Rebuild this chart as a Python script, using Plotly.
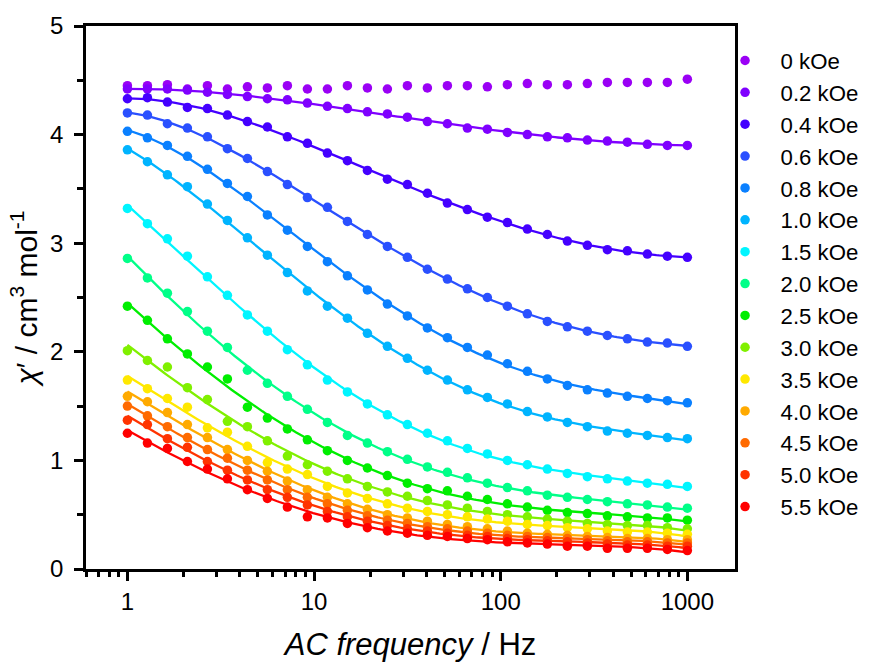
import numpy as np
import plotly.graph_objects as go

freq = [1, 1.28, 1.638, 2.096, 2.683, 3.434, 4.394, 5.623, 7.197, 9.211,
        11.79, 15.09, 19.31, 24.71, 31.62, 40.47, 51.79, 66.28, 84.83, 108.6,
        138.9, 177.8, 227.6, 291.3, 372.8, 477.1, 610.6, 781.5, 1000]

labels = ["0 kOe", "0.2 kOe", "0.4 kOe", "0.6 kOe", "0.8 kOe", "1.0 kOe", "1.5 kOe",
          "2.0 kOe", "2.5 kOe", "3.0 kOe", "3.5 kOe", "4.0 kOe", "4.5 kOe", "5.0 kOe", "5.5 kOe"]

chi_0_0 = [4.45, 4.45, 4.46, 4.42, 4.45, 4.42, 4.44, 4.43, 4.45, 4.42, 4.42, 4.45, 4.43, 4.42,
           4.45, 4.43, 4.45, 4.45, 4.44, 4.46, 4.47, 4.46, 4.46, 4.47, 4.48, 4.48, 4.48, 4.48, 4.51]
chi_0_2 = [4.42, 4.42, 4.42, 4.41, 4.39, 4.37, 4.35, 4.33, 4.32, 4.29, 4.26, 4.24, 4.21, 4.19,
           4.16, 4.12, 4.10, 4.06, 4.05, 4.02, 4.00, 3.98, 3.97, 3.95, 3.94, 3.93, 3.91, 3.90, 3.90]
chi_0_4 = [4.33, 4.34, 4.30, 4.25, 4.24, 4.18, 4.12, 4.07, 3.98, 3.92, 3.83, 3.76, 3.67, 3.59,
           3.54, 3.46, 3.37, 3.31, 3.24, 3.19, 3.13, 3.08, 3.02, 2.98, 2.94, 2.93, 2.90, 2.88, 2.87]
chi_0_6 = [4.20, 4.18, 4.10, 4.06, 3.98, 3.87, 3.78, 3.66, 3.54, 3.42, 3.33, 3.20, 3.08, 2.97,
           2.87, 2.76, 2.67, 2.58, 2.50, 2.42, 2.35, 2.28, 2.23, 2.19, 2.15, 2.12, 2.09, 2.08, 2.05]
chi_0_8 = [4.03, 3.97, 3.90, 3.80, 3.68, 3.55, 3.43, 3.26, 3.12, 2.97, 2.83, 2.70, 2.57, 2.44,
           2.33, 2.22, 2.13, 2.04, 1.97, 1.89, 1.82, 1.75, 1.69, 1.65, 1.62, 1.59, 1.57, 1.55, 1.53]
chi_1_0 = [3.86, 3.75, 3.63, 3.52, 3.36, 3.21, 3.05, 2.89, 2.73, 2.56, 2.42, 2.31, 2.17, 2.05,
           1.94, 1.83, 1.74, 1.65, 1.58, 1.52, 1.45, 1.40, 1.35, 1.31, 1.27, 1.25, 1.23, 1.21, 1.20]
chi_1_5 = [3.32, 3.18, 3.04, 2.88, 2.69, 2.52, 2.34, 2.19, 2.02, 1.88, 1.74, 1.63, 1.52, 1.42,
           1.33, 1.25, 1.18, 1.11, 1.06, 1.00, 0.96, 0.92, 0.88, 0.85, 0.83, 0.81, 0.79, 0.78, 0.76]
chi_2_0 = [2.86, 2.68, 2.54, 2.37, 2.19, 2.04, 1.83, 1.71, 1.59, 1.47, 1.35, 1.23, 1.16, 1.08,
           1.01, 0.94, 0.89, 0.84, 0.79, 0.75, 0.72, 0.68, 0.66, 0.64, 0.62, 0.60, 0.59, 0.57, 0.56]
chi_2_5 = [2.42, 2.29, 2.12, 1.98, 1.86, 1.75, 1.49, 1.39, 1.29, 1.19, 1.09, 1.00, 0.93, 0.86,
           0.79, 0.74, 0.72, 0.67, 0.64, 0.60, 0.57, 0.54, 0.52, 0.51, 0.49, 0.48, 0.47, 0.47, 0.45]
chi_3_0 = [2.01, 1.92, 1.86, 1.67, 1.56, 1.36, 1.31, 1.18, 1.04, 0.96, 0.90, 0.83, 0.76, 0.71,
           0.67, 0.63, 0.59, 0.56, 0.53, 0.50, 0.48, 0.46, 0.44, 0.42, 0.41, 0.40, 0.40, 0.38, 0.37]
chi_3_5 = [1.74, 1.66, 1.57, 1.49, 1.30, 1.26, 1.13, 0.98, 0.92, 0.87, 0.76, 0.70, 0.65, 0.60,
           0.56, 0.53, 0.50, 0.48, 0.46, 0.44, 0.41, 0.40, 0.38, 0.37, 0.35, 0.34, 0.34, 0.33, 0.32]
chi_4_0 = [1.59, 1.54, 1.44, 1.33, 1.21, 1.10, 1.00, 0.90, 0.81, 0.73, 0.66, 0.60, 0.55, 0.50,
           0.47, 0.44, 0.41, 0.39, 0.37, 0.35, 0.33, 0.32, 0.31, 0.30, 0.29, 0.28, 0.28, 0.27, 0.27]
chi_4_5 = [1.50, 1.41, 1.31, 1.21, 1.10, 1.02, 0.91, 0.82, 0.73, 0.66, 0.60, 0.54, 0.49, 0.45,
           0.42, 0.39, 0.37, 0.35, 0.33, 0.31, 0.30, 0.29, 0.28, 0.27, 0.26, 0.25, 0.25, 0.24, 0.24]
chi_5_0 = [1.37, 1.33, 1.20, 1.12, 0.99, 0.91, 0.82, 0.73, 0.66, 0.59, 0.53, 0.48, 0.44, 0.40,
           0.37, 0.35, 0.33, 0.31, 0.30, 0.28, 0.27, 0.26, 0.25, 0.24, 0.23, 0.22, 0.22, 0.21, 0.21]
chi_5_5 = [1.25, 1.16, 1.11, 0.99, 0.92, 0.83, 0.73, 0.65, 0.57, 0.48, 0.47, 0.42, 0.38, 0.35,
           0.33, 0.31, 0.30, 0.28, 0.27, 0.25, 0.24, 0.23, 0.21, 0.21, 0.19, 0.19, 0.19, 0.18, 0.17]

series = [chi_0_0, chi_0_2, chi_0_4, chi_0_6, chi_0_8, chi_1_0, chi_1_5, chi_2_0,
          chi_2_5, chi_3_0, chi_3_5, chi_4_0, chi_4_5, chi_5_0, chi_5_5]
colors = ["#9a00f5", "#7f00ff", "#4400ff", "#2a50ff", "#0a80ff", "#00b4ff", "#00f5ff",
          "#00ff88", "#00ee00", "#80f000", "#ffe800", "#ffaa00", "#ff6a00", "#ff3300", "#ff0000"]
has_fit = [False] + [True] * 14

FONT = "Arial, Liberation Sans, sans-serif"
fig = go.Figure()

# fitted curves (least-squares smooth fit of each series in log-frequency)
lf = np.log10(np.array(freq))
lf_fine = np.linspace(lf[0], lf[-1], 200)
for vals, col, fit in zip(series, colors, has_fit):
    if not fit:
        continue
    coef = np.polyfit(lf, np.array(vals), 4)
    fig.add_trace(go.Scatter(x=10 ** lf_fine, y=np.polyval(coef, lf_fine), mode="lines",
                             line=dict(color=col, width=2.3), showlegend=False, hoverinfo="skip"))

for vals, col, lab in zip(series, colors, labels):
    fig.add_trace(go.Scatter(x=freq, y=vals, mode="markers", name=lab,
                             marker=dict(color=col, size=9.5, line=dict(width=0))))

fig.update_layout(
    width=876, height=662,
    margin=dict(l=86, r=139, t=26, b=93),
    plot_bgcolor="white", paper_bgcolor="white",
    font=dict(family=FONT, size=24, color="black"),
    legend=dict(x=0.9608, xanchor="left", y=0.975, yanchor="top",
                font=dict(family=FONT, size=22.2, color="black"),
                itemwidth=61, bgcolor="rgba(0,0,0,0)"),
)
fig.update_xaxes(
    type="log", range=[np.log10(0.6), np.log10(1800)], automargin=False,
    tickvals=[1, 10, 100, 1000], ticktext=["1", "10", "100", "1000"],
    ticks="outside", ticklen=9, tickwidth=2.5, tickcolor="black",
    minor=dict(ticks="outside", ticklen=5, tickwidth=2.5, tickcolor="black",
               tickvals=[0.6, 0.7, 0.8, 0.9, 2, 3, 4, 5, 6, 7, 8, 9,
                         20, 30, 40, 50, 60, 70, 80, 90, 200, 300, 400, 500, 600, 700, 800, 900]),
    showline=True, linecolor="black", linewidth=2.5, mirror=True, showgrid=False, zeroline=False,
    tickfont=dict(family=FONT, size=24),
    title=dict(text="<i>AC frequency</i> / Hz", font=dict(family=FONT, size=31), standoff=20),
)
fig.update_yaxes(
    range=[0, 5], tickvals=[0, 1, 2, 3, 4, 5], automargin=False,
    ticks="outside", ticklen=9, tickwidth=2.5, tickcolor="black",
    minor=dict(ticks="outside", ticklen=6, tickwidth=2.5, tickcolor="black", dtick=0.5),
    showline=True, linecolor="black", linewidth=2.5, mirror=True, showgrid=False, zeroline=False,
    tickfont=dict(family=FONT, size=24), ticklabelstandoff=6,
    title=dict(text="<i>χ</i>′ / cm<sup>3</sup> mol<sup>-1</sup>", font=dict(family=FONT, size=30), standoff=4),
)

fig.write_html("out.html")
